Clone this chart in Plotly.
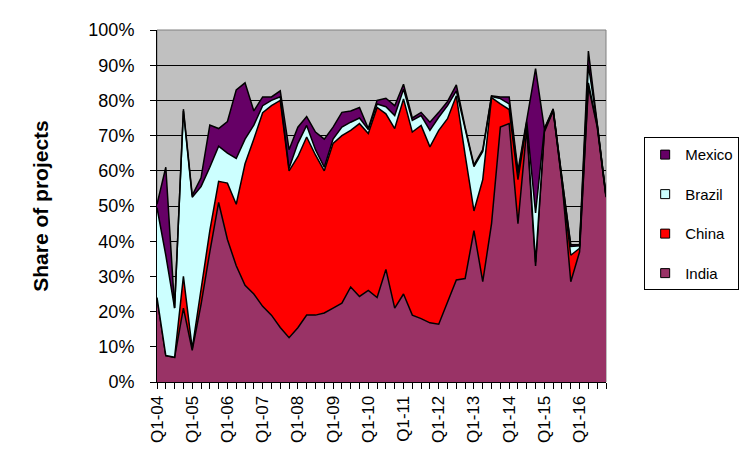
import plotly.graph_objects as go

# Quarters Q1-04 .. Q4-16
years = list(range(2004, 2017))
quarters = [f"Q{q}-{str(y)[2:]}" for y in years for q in range(1, 5)]
tick_labels = [f"Q1-{str(y)[2:]}" for y in years]
y_ticks = list(range(0, 101, 10))
y_tick_labels = [f"{v}%" for v in y_ticks]

india = [24, 7.5, 7, 21, 9, 22, 37, 51, 40.5, 33, 27.5, 25, 21.5, 19, 15.5, 12.6,
         15.4, 19, 19, 19.6, 21, 22.4, 27, 24.3, 26, 24, 32, 21, 25, 19, 18, 16.8,
         16.4, 23, 29, 29.4, 43, 28.5, 45, 72.4, 73.4, 45, 72, 33, 71, 77, 57, 28.5,
         37, 84, 72.5, 52.5]
china = [0, 0, 0, 9, 0.5, 5, 6, 6, 16, 17.5, 34.5, 44, 55, 59.5, 64.5, 47.4,
         48.6, 50.6, 45.5, 40.4, 46.8, 47.6, 44.5, 49.1, 44.6, 54, 44.2, 51, 55.4, 52, 54.9, 50,
         55.1, 51.8, 52.3, 35.1, 5.6, 29, 35.8, 6.6, 4, 12.5, 1.5, 1, 0.5, 0.2, 0.3, 7.5,
         1, 1, 0.5, 0.3]
brazil = [25.5, 28.5, 14, 47, 43, 28.5, 18, 10, 8.5, 13, 7, 4, 2, 1.5, 1, 0.7,
          3.8, 3.3, 1.5, 1, 1.2, 2.4, 2.3, 1.6, 1.1, 1, 2, 3.7, 2.8, 3.3, 2.8, 4.7,
          3.7, 3.7, 1.4, 7, 12.6, 8, 0.3, 1.5, 1.6, 1.5, 0.5, 14, 0.3, 0.2, 0.2, 2.5,
          0.7, 5, 0.3, 0.1]
mexico = [1, 25, 0, 0.5, 0.5, 2.5, 12, 5, 9, 19.5, 16, 4, 2.5, 1, 1.7, 5.3,
          4.6, 2.5, 5, 8, 3.4, 4.2, 3.2, 3, 0.3, 1, 2.4, 2.8, 1.4, 0.7, 0.9, 2.3,
          1.4, 1.2, 1.7, 0.9, 0.5, 0.5, 0.2, 0.5, 2, 1, 0.5, 41, 0.2, 0.2, 0.2, 0.5,
          0.3, 4, 0.2, 0.1]

series = [("India", india, "#993366"), ("China", china, "#FF0000"),
          ("Brazil", brazil, "#CCFFFF"), ("Mexico", mexico, "#660066")]

x = list(range(len(quarters)))
FONT = "Liberation Sans, Arial, sans-serif"

fig = go.Figure()
for name, vals, col in series:
    fig.add_trace(go.Scatter(
        x=x, y=vals, name=name, stackgroup="one", mode="lines",
        line=dict(color="black", width=1.5), fillcolor=col,
        showlegend=False, hoverinfo="skip"))

# legend entries (square swatches), top to bottom
for name, vals, col in reversed(series):
    fig.add_trace(go.Scatter(
        x=[None], y=[None], name=name, mode="markers", legendgroup=name,
        marker=dict(symbol="square", size=9, color=col,
                    line=dict(color="black", width=1))))

fig.update_layout(
    width=748, height=449,
    margin=dict(l=149, r=150, t=17, b=75),
    paper_bgcolor="white", plot_bgcolor="#C0C0C0",
    font=dict(family=FONT, size=16, color="black"),
    legend=dict(x=1.085, y=0.695, xanchor="left", yanchor="top",
                bordercolor="black", borderwidth=1, bgcolor="white",
                font=dict(size=15), tracegroupgap=17, traceorder="grouped",
                entrywidth=74, entrywidthmode="pixels"),
    shapes=[dict(type="rect", xref="paper", yref="paper", x0=0, y0=0, x1=1, y1=1,
                 line=dict(color="#808080", width=1), layer="between")],
)
fig.update_xaxes(
    range=[0, len(quarters) - 1], tickmode="array",
    tickvals=[quarters.index(t) for t in tick_labels], ticktext=tick_labels,
    tickangle=-90, ticks="outside", ticklen=6, tickwidth=1, tickcolor="black",
    minor=dict(tickmode="linear", tick0=0, dtick=1, ticks="outside",
               ticklen=6, tickwidth=1, tickcolor="black"),
    showline=True, linecolor="black", linewidth=1, showgrid=False,
    zeroline=False, tickfont=dict(size=17))
fig.update_yaxes(
    range=[0, 100], tickmode="array", tickvals=y_ticks, ticktext=y_tick_labels,
    ticks="outside", ticklen=6, tickwidth=1, tickcolor="black", ticklabelstandoff=12,
    showline=True, linecolor="black", linewidth=1,
    showgrid=True, gridcolor="black", gridwidth=1, zeroline=False,
    tickfont=dict(size=18),
    title=dict(text="<b>Share of projects</b>", font=dict(size=21), standoff=34))

fig.write_html("out.html")
